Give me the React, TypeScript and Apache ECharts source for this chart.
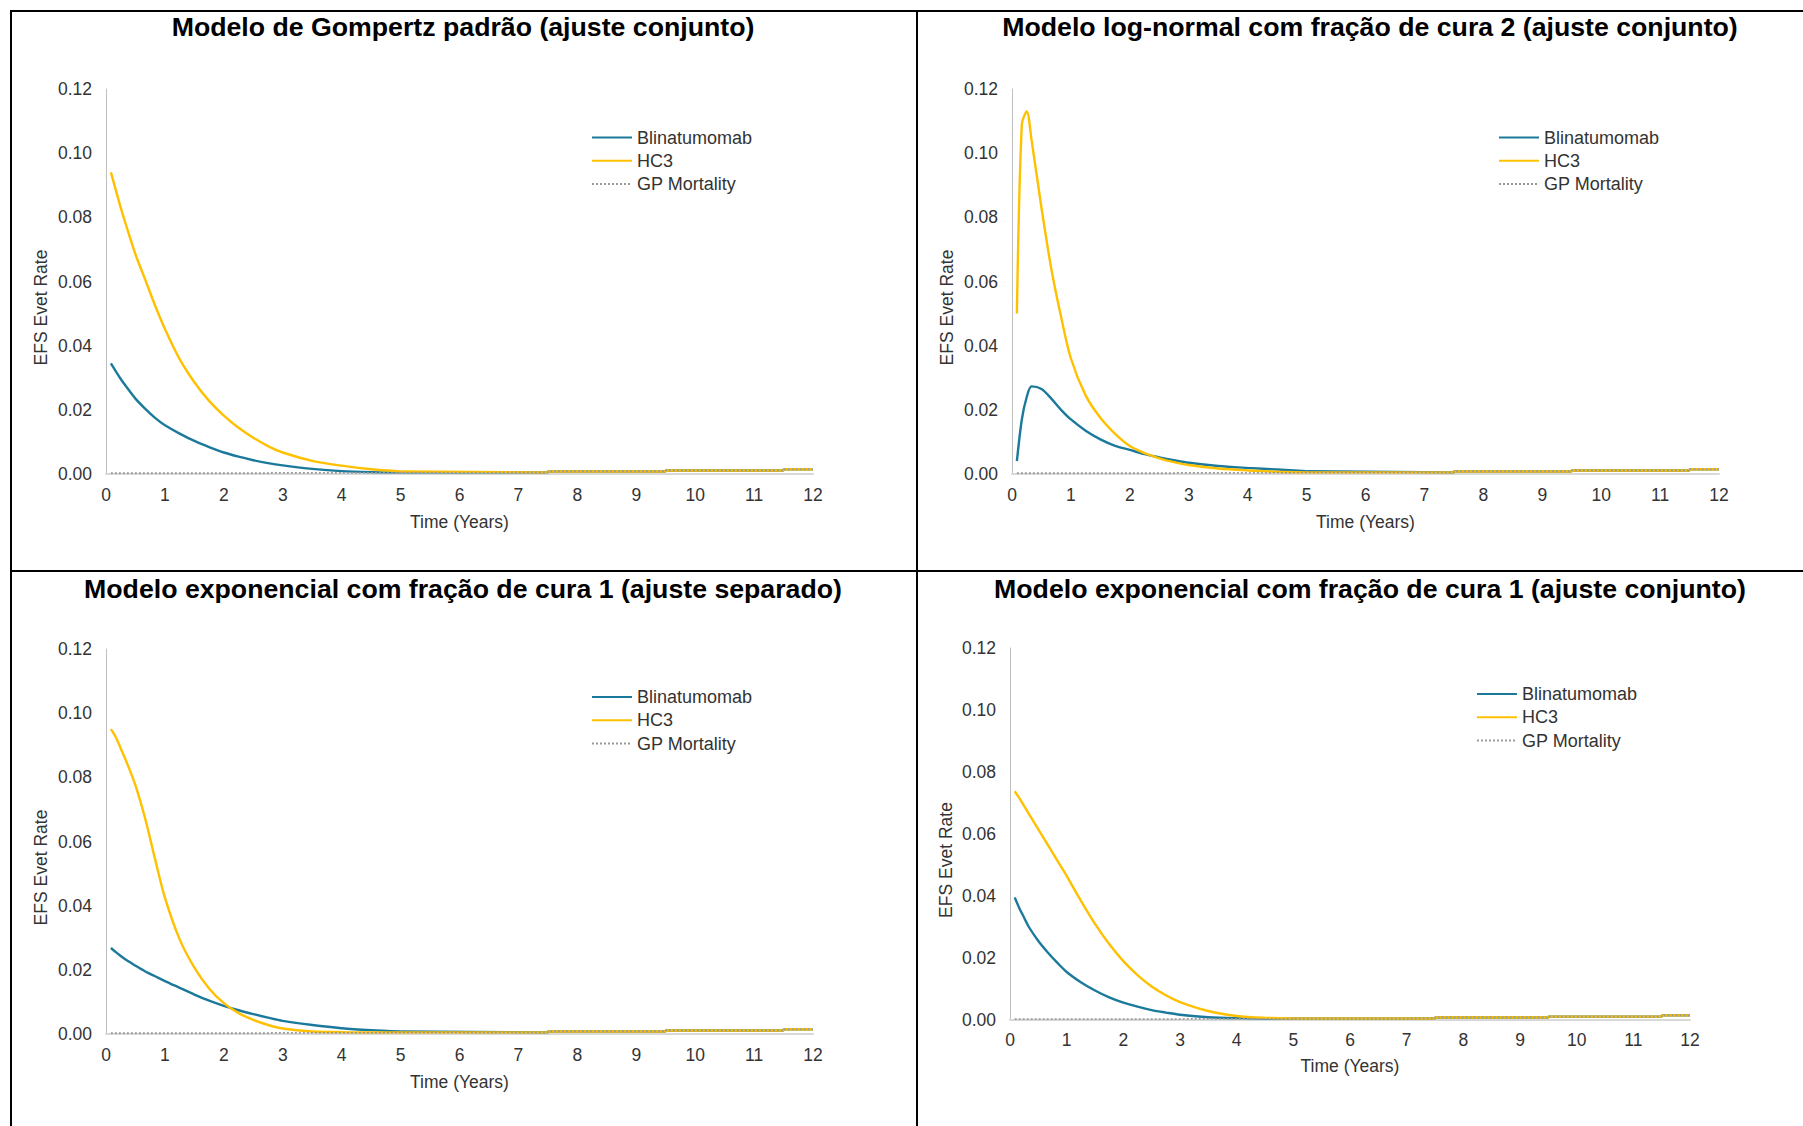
import React, { useEffect, useRef } from "react";
import * as echarts from "echarts";

// ---------- data ----------
const TIME = [0.083, 0.167, 0.25, 0.333, 0.5, 0.667, 0.833, 1, 1.25, 1.5, 1.75, 2, 2.25, 2.5, 2.75, 3, 3.5, 4, 4.5, 5];

const GP_TIME = [0.083, 2.5, 2.5, 7.5, 7.5, 9.5, 9.5, 11.5, 11.5, 12];
const GP_RATE = [0.0003, 0.0003, 0.0005, 0.0005, 0.0008, 0.0008, 0.0011, 0.0011, 0.0015, 0.0015];

const TITLES = [
  "Modelo de Gompertz padrão (ajuste conjunto)",
  "Modelo log-normal com fração de cura 2 (ajuste conjunto)",
  "Modelo exponencial com fração de cura 1 (ajuste separado)",
  "Modelo exponencial com fração de cura 1 (ajuste conjunto)",
];

const SERIES_NAMES = ["Blinatumomab", "HC3", "GP Mortality"];

const BLINA_GOMPERTZ = [0.0345, 0.032, 0.0296, 0.0275, 0.0235, 0.0203, 0.0175, 0.0152, 0.0126, 0.0103, 0.0084, 0.0067, 0.0054, 0.0043, 0.0034, 0.0027, 0.0016, 0.0009, 0.0006, 0.0005];
const HC3_GOMPERTZ = [0.094, 0.0885, 0.083, 0.078, 0.0685, 0.0605, 0.0525, 0.0452, 0.0358, 0.0286, 0.0228, 0.0182, 0.0144, 0.0113, 0.0087, 0.0067, 0.0041, 0.0026, 0.0015, 0.0008];

const BLINA_LOGNORMAL = [0.004, 0.017, 0.024, 0.0273, 0.0265, 0.0235, 0.02, 0.017, 0.0135, 0.0108, 0.0088, 0.0075, 0.0062, 0.0052, 0.0043, 0.0035, 0.0025, 0.0019, 0.0014, 0.0009];
const HC3_LOGNORMAL = [0.05, 0.109, 0.113, 0.104, 0.083, 0.064, 0.049, 0.036, 0.0245, 0.0175, 0.0125, 0.0087, 0.0065, 0.0049, 0.0037, 0.0028, 0.0017, 0.0011, 0.0007, 0.0005];

const BLINA_EXP_SEP = [0.0268, 0.0255, 0.0243, 0.0232, 0.0213, 0.0195, 0.018, 0.0165, 0.0144, 0.0123, 0.0104, 0.0088, 0.0074, 0.0062, 0.0051, 0.0041, 0.0028, 0.0018, 0.0012, 0.0008];
const HC3_EXP_SEP = [0.095, 0.0925, 0.089, 0.0855, 0.0775, 0.067, 0.0545, 0.0425, 0.0295, 0.0207, 0.0142, 0.0096, 0.0065, 0.0044, 0.0028, 0.0017, 0.0008, 0.0006, 0.0005, 0.0005];

const BLINA_EXP_JOINT = [0.0395, 0.036, 0.033, 0.03, 0.0255, 0.0218, 0.0185, 0.0155, 0.0122, 0.0095, 0.0073, 0.0056, 0.0043, 0.0032, 0.0024, 0.0017, 0.0009, 0.0006, 0.0005, 0.0005];
const HC3_EXP_JOINT = [0.0738, 0.0715, 0.069, 0.0665, 0.0615, 0.0565, 0.0515, 0.0465, 0.0385, 0.031, 0.0245, 0.019, 0.0145, 0.0108, 0.008, 0.0058, 0.0029, 0.0013, 0.0007, 0.0005];

const PANEL_DATA = [
  [BLINA_GOMPERTZ, HC3_GOMPERTZ],
  [BLINA_LOGNORMAL, HC3_LOGNORMAL],
  [BLINA_EXP_SEP, HC3_EXP_SEP],
  [BLINA_EXP_JOINT, HC3_EXP_JOINT],
];

// ---------- layout ----------
const LAYOUT = [
  { grid: { left: 106, top: 89, width: 707, height: 385 }, title: { x: 463, y: 13 }, legend: { x: 591, y: 128.5 }, yGap: 56, xGap: 39, xMargin: 12 },
  { grid: { left: 1012, top: 89, width: 707, height: 385 }, title: { x: 1370, y: 13 }, legend: { x: 1498, y: 128.5 }, yGap: 56, xGap: 39, xMargin: 12 },
  { grid: { left: 106, top: 649, width: 707, height: 385 }, title: { x: 463, y: 575 }, legend: { x: 591, y: 688 }, yGap: 56, xGap: 39, xMargin: 12 },
  { grid: { left: 1010, top: 648, width: 680, height: 372 }, title: { x: 1370, y: 575 }, legend: { x: 1476, y: 685 }, yGap: 55, xGap: 37, xMargin: 11 },
];

const FONT = "'Liberation Sans', Arial, Helvetica, sans-serif";
const BLUE = "#1B7A9B";
const GOLD = "#FFC000";
const GREY = "#9A9A9A";
const TEXT = "#333333";
const FS = 17.5;

function buildOption() {
  const gpPoints = GP_TIME.map((t, i) => [t, GP_RATE[i]]);
  const gpAfter5 = gpPoints.filter((p) => p[0] > 5);

  const grid: any[] = [];
  const xAxis: any[] = [];
  const yAxis: any[] = [];
  const series: any[] = [];
  const title: any[] = [];
  const legend: any[] = [];

  LAYOUT.forEach((L, k) => {
    grid.push({ ...L.grid, containLabel: false });
    title.push({
      text: TITLES[k],
      left: L.title.x,
      top: L.title.y,
      textAlign: "center",
      padding: 0,
      textStyle: { fontFamily: FONT, fontSize: 26.7, fontWeight: "bold", color: "#000" },
    });
    legend.push({
      orient: "vertical",
      left: L.legend.x,
      top: L.legend.y,
      padding: 0,
      itemWidth: 40,
      itemHeight: 18,
      itemGap: 5.3,
      data: SERIES_NAMES,
      itemStyle: { color: "rgba(0,0,0,0)", borderColor: "rgba(0,0,0,0)", borderWidth: 0, opacity: 0 },
      textStyle: { fontFamily: FONT, fontSize: 18, color: TEXT, lineHeight: 18 },
    });
    xAxis.push({
      type: "value",
      gridIndex: k,
      min: 0,
      max: 12,
      interval: 1,
      name: "Time (Years)",
      nameLocation: "middle",
      nameGap: L.xGap,
      nameTextStyle: { fontFamily: FONT, fontSize: FS, color: TEXT },
      axisLine: { show: true, lineStyle: { color: "#D9D9D9", width: 2 } },
      axisTick: { show: false },
      splitLine: { show: false },
      axisLabel: { margin: L.xMargin, fontFamily: FONT, fontSize: FS, color: TEXT },
    });
    yAxis.push({
      type: "value",
      gridIndex: k,
      min: 0,
      max: 0.12,
      interval: 0.02,
      name: "EFS Evet Rate",
      nameLocation: "middle",
      nameGap: L.yGap,
      nameTextStyle: { fontFamily: FONT, fontSize: FS, color: TEXT, padding: [0, 52, 0, 0] },
      axisLine: { show: true, lineStyle: { color: "#BFBFBF", width: 1 } },
      axisTick: { show: false },
      splitLine: { show: false },
      axisLabel: { margin: 14, fontFamily: FONT, fontSize: FS, color: TEXT, formatter: (v: number) => v.toFixed(2) },
    });
    const [blina, hc3] = PANEL_DATA[k];
    const curves = [
      { name: SERIES_NAMES[0], values: blina, color: BLUE, z: 2 },
      { name: SERIES_NAMES[1], values: hc3, color: GOLD, z: 3 },
    ];
    curves.forEach((c) => {
      const base = {
        name: c.name,
        type: "line",
        xAxisIndex: k,
        yAxisIndex: k,
        showSymbol: false,
        symbol: "none",
        lineStyle: { color: c.color, width: 2.4 },
        itemStyle: { color: c.color },
        z: c.z,
      };
      // fitted curve up to 5 years
      series.push({ ...base, smooth: 0.3, data: TIME.map((t, i) => [t, c.values[i]]) });
      // after 5 years the curve follows general population mortality
      series.push({ ...base, data: [[TIME[TIME.length - 1], c.values[c.values.length - 1]]].concat(gpAfter5) });
    });
    series.push({
      name: SERIES_NAMES[2],
      type: "line",
      xAxisIndex: k,
      yAxisIndex: k,
      showSymbol: false,
      symbol: "none",
      data: gpPoints,
      lineStyle: { color: GREY, width: 1.75, type: [2, 2] },
      itemStyle: { color: GREY },
      z: 4,
    });
  });

  const border = { stroke: "#000", lineWidth: 2 };
  const graphic = [
    { type: "line", shape: { x1: 10, y1: 11, x2: 1803, y2: 11 }, style: border, silent: true },
    { type: "line", shape: { x1: 11, y1: 10, x2: 11, y2: 1126 }, style: border, silent: true },
    { type: "line", shape: { x1: 917, y1: 10, x2: 917, y2: 1126 }, style: border, silent: true },
    { type: "line", shape: { x1: 10, y1: 571, x2: 1803, y2: 571 }, style: border, silent: true },
  ];

  return {
    animation: false,
    backgroundColor: "#ffffff",
    textStyle: { fontFamily: FONT },
    title,
    legend,
    grid,
    xAxis,
    yAxis,
    series,
    graphic,
  };
}

export default function App() {
  const ref = useRef<HTMLDivElement>(null);
  useEffect(() => {
    document.body.style.margin = "0";
    if (!ref.current) return;
    const chart = echarts.init(ref.current, undefined, { renderer: "svg" });
    chart.setOption(buildOption() as any);
    return () => chart.dispose();
  }, []);
  return <div ref={ref} style={{ position: "absolute", left: 0, top: 0, width: 1803, height: 1126 }} />;
}
